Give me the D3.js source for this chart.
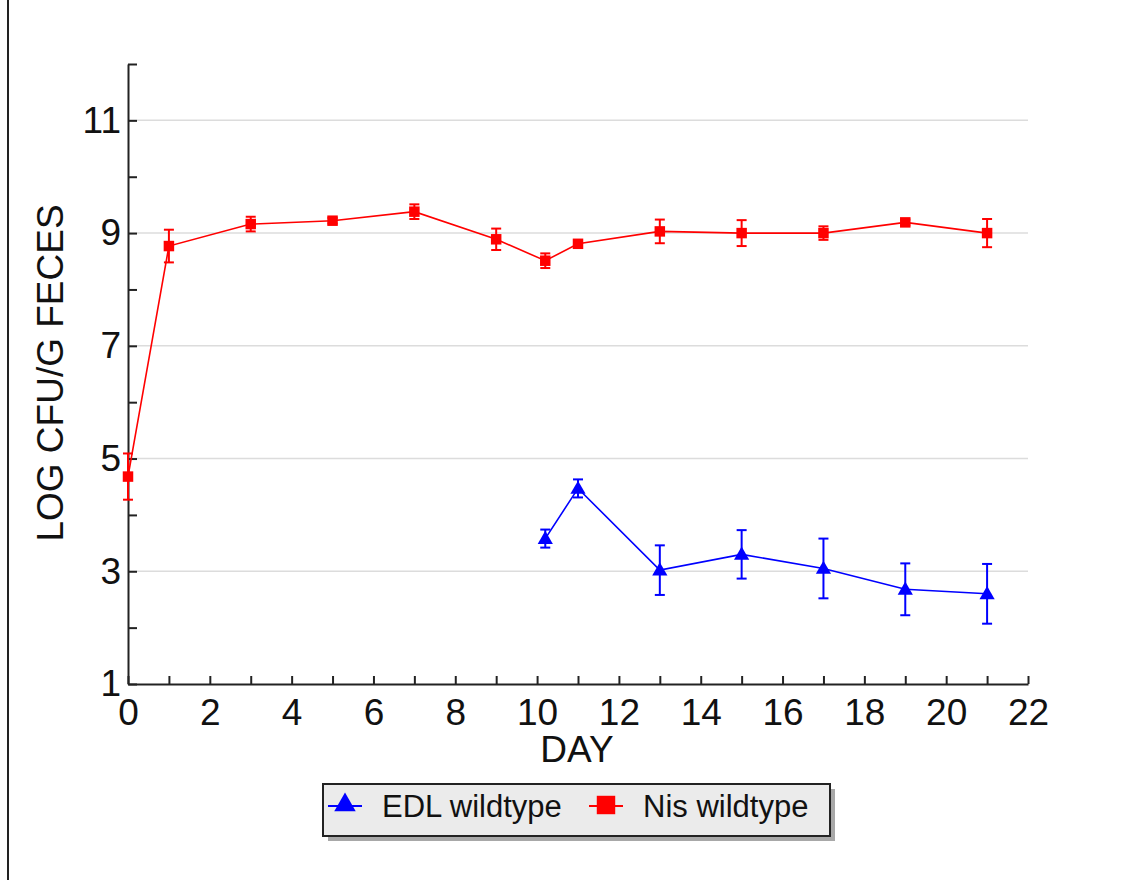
<!DOCTYPE html>
<html>
<head>
<meta charset="utf-8">
<script src="https://cdn.jsdelivr.net/npm/d3@7"></script>
<style>
    html, body { margin: 0; padding: 0; background: #fff; }
    svg { display: block; font-family: "Liberation Sans", Arial, sans-serif; }
    .axis path, .axis line { stroke: #222; stroke-width: 2; }
    .axis text { font-size: 37px; fill: #111; }
</style>
</head>
<body>
<svg id="chart" width="1145" height="880"></svg>
<script>
// Nis wildtype (red squares)
const nisDays = [0, 1, 3, 5, 7, 9, 10.2, 11, 13, 15, 17, 19, 21];
const nisMean = [4.68, 8.77, 9.16, 9.22, 9.38, 8.89, 8.51, 8.81, 9.03, 9.0, 9.0, 9.19, 9.0];
const nisErr  = [0.41, 0.29, 0.13, 0.05, 0.13, 0.19, 0.13, 0.05, 0.21, 0.23, 0.12, 0.05, 0.25];

// EDL wildtype (blue triangles)
const edlDays = [10.2, 11, 13, 15, 17, 19, 21];
const edlMean = [3.58, 4.47, 3.02, 3.30, 3.05, 2.68, 2.60];
const edlErr  = [0.16, 0.16, 0.44, 0.43, 0.53, 0.46, 0.53];

const xTicks = d3.range(0, 23);
const yTicks = d3.range(1, 13);
const yGrid  = [3, 5, 7, 9, 11];

const legendItems = [
    { label: 'EDL wildtype', color: '#0000ff', shape: 'triangle' },
    { label: 'Nis wildtype', color: '#ff0000', shape: 'square' }
];

const svg = d3.select('#chart');
const plotL = 128, plotR = 1028, plotT = 64, plotB = 684;

const x = d3.scaleLinear().domain([0, 22]).range([plotL, plotR]);
const y = d3.scaleLinear().domain([1, 12]).range([plotB, plotT]);

// page border line on the left
svg.append('line')
    .attr('x1', 8).attr('x2', 8).attr('y1', 0).attr('y2', 880)
    .attr('stroke', '#222').attr('stroke-width', 2);

// grid
svg.append('g').selectAll('line').data(yGrid).join('line')
    .attr('x1', plotL).attr('x2', plotR)
    .attr('y1', d => y(d)).attr('y2', d => y(d))
    .attr('stroke', '#dcdcdc').attr('stroke-width', 1.5);

// axes
svg.append('g').attr('class', 'axis')
    .attr('transform', `translate(0,${plotB})`)
    .call(d3.axisBottom(x).tickValues(xTicks).tickSize(-8).tickSizeOuter(0).tickPadding(15)
        .tickFormat(d => d % 2 === 0 ? d : ''));

svg.append('g').attr('class', 'axis')
    .attr('transform', `translate(${plotL},0)`)
    .call(d3.axisLeft(y).tickValues(yTicks).tickSize(-9).tickSizeOuter(0).tickPadding(7)
        .tickFormat(d => d % 2 === 1 ? d : ''));

// axis titles
svg.append('text')
    .attr('x', (plotL + plotR) / 2 - 1).attr('y', 762)
    .attr('text-anchor', 'middle').attr('font-size', 37).attr('fill', '#111')
    .text('DAY');

svg.append('text')
    .attr('transform', 'translate(63,373) rotate(-90)')
    .attr('text-anchor', 'middle').attr('font-size', 37).attr('fill', '#111')
    .text('LOG CFU/G FECES');

const line = d3.line().x(d => x(d.day)).y(d => y(d.mean));

function drawSeries(days, means, errs, color, shape) {
    const pts = days.map((d, i) => ({ day: d, mean: means[i], err: errs[i] }));
    const g = svg.append('g');

    g.append('path').datum(pts)
        .attr('fill', 'none').attr('stroke', color).attr('stroke-width', 1.6)
        .attr('d', line);

    // error bars
    const eb = g.selectAll('.eb').data(pts).join('g');
    eb.append('line')
        .attr('x1', d => x(d.day)).attr('x2', d => x(d.day))
        .attr('y1', d => y(d.mean + d.err)).attr('y2', d => y(d.mean - d.err))
        .attr('stroke', color).attr('stroke-width', 2);
    for (const sgn of [1, -1]) {
        eb.append('line')
            .attr('x1', d => x(d.day) - 5).attr('x2', d => x(d.day) + 5)
            .attr('y1', d => y(d.mean + sgn * d.err)).attr('y2', d => y(d.mean + sgn * d.err))
            .attr('stroke', color).attr('stroke-width', 2);
    }

    const sym = d3.symbol().type(shape === 'square' ? d3.symbolSquare : d3.symbolTriangle)
        .size(shape === 'square' ? 110 : 100);
    g.selectAll('.pt').data(pts).join('path')
        .attr('transform', d => `translate(${x(d.day)},${y(d.mean) + (shape === 'triangle' ? 1 : 0)})`)
        .attr('d', sym).attr('fill', color);
}

drawSeries(nisDays, nisMean, nisErr, '#ff0000', 'square');
drawSeries(edlDays, edlMean, edlErr, '#0000ff', 'triangle');

// legend
const lg = svg.append('g');
lg.append('rect').attr('x', 328).attr('y', 789).attr('width', 507).attr('height', 52).attr('fill', '#a8a8a8');
lg.append('rect').attr('x', 323).attr('y', 784).attr('width', 507).attr('height', 52)
    .attr('fill', '#ebebeb').attr('stroke', '#222').attr('stroke-width', 2);

const itemX = [328, 589];
legendItems.forEach((it, i) => {
    const x0 = itemX[i], cy = 806;
    lg.append('line').attr('x1', x0).attr('x2', x0 + 34).attr('y1', cy).attr('y2', cy)
        .attr('stroke', it.color).attr('stroke-width', 1.8);
    const sym = d3.symbol().type(it.shape === 'square' ? d3.symbolSquare : d3.symbolTriangle)
        .size(it.shape === 'square' ? 340 : 200);
    lg.append('path').attr('transform', `translate(${x0 + 17},${cy - 1})`)
        .attr('d', sym).attr('fill', it.color);
    lg.append('text').attr('x', x0 + 54).attr('y', cy + 11)
        .attr('font-size', 31).attr('fill', '#111').text(it.label);
});
</script>
</body>
</html>
